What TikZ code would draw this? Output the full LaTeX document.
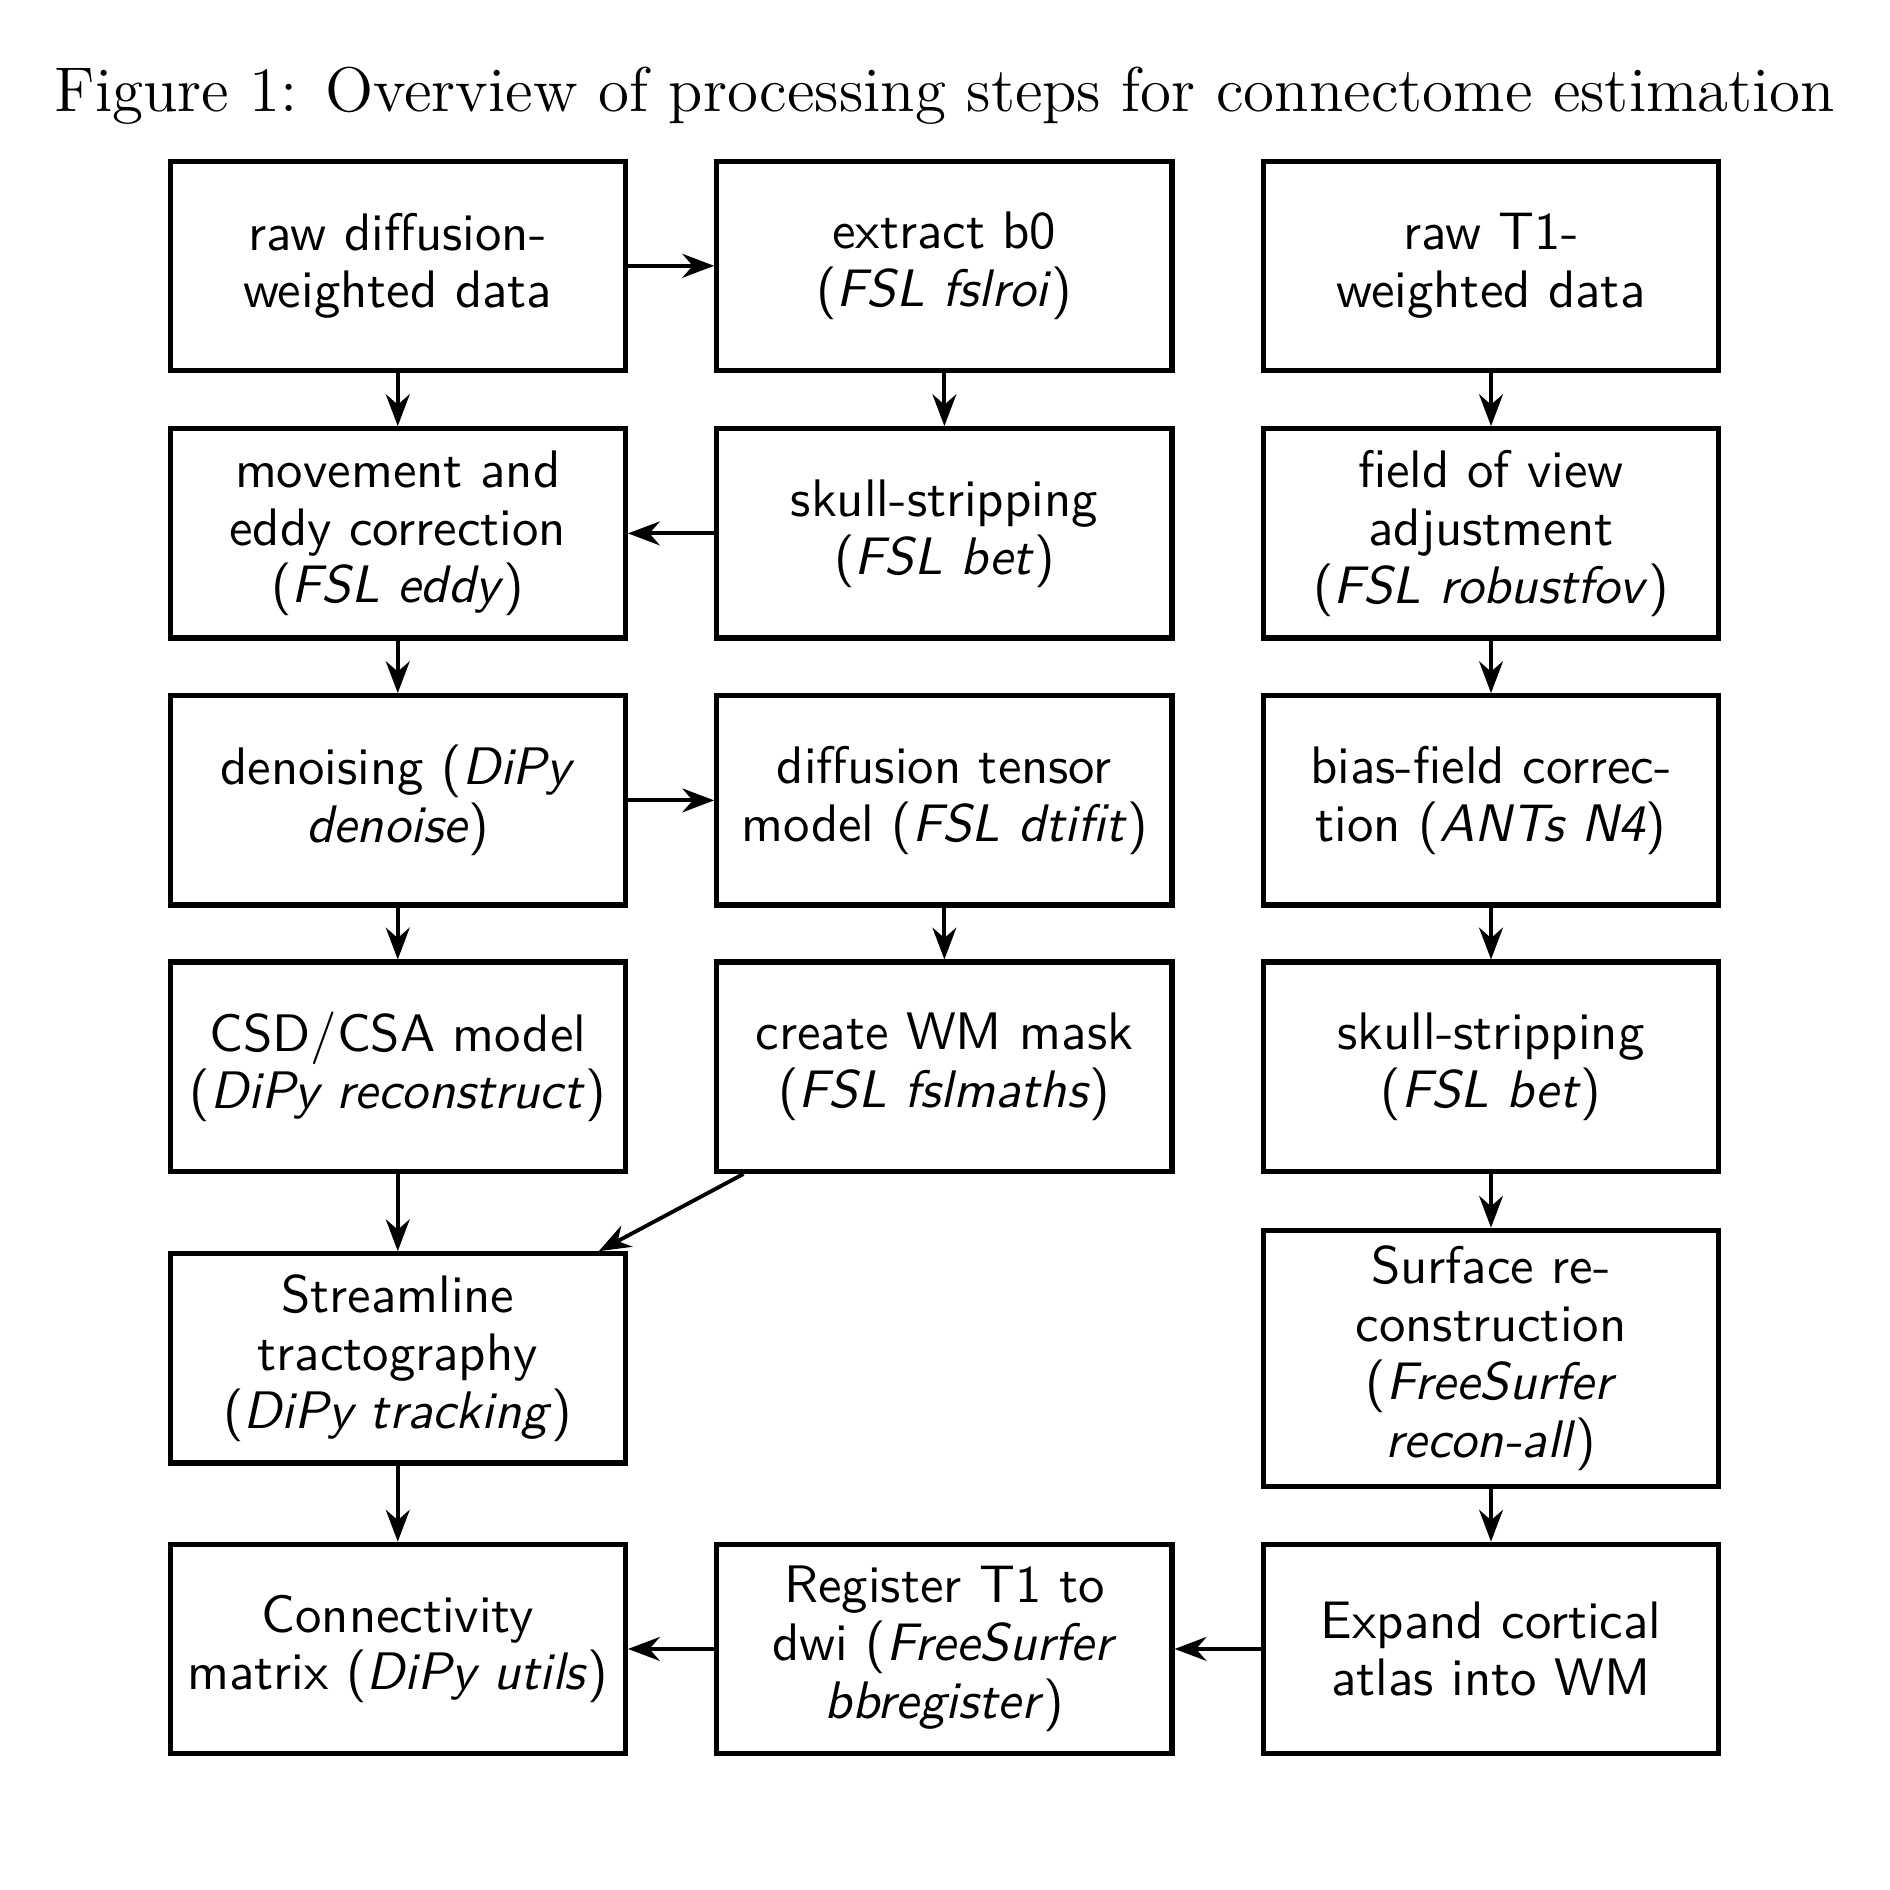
\documentclass[tikz,border=0pt]{standalone}
\usetikzlibrary{arrows.meta}
\begin{document}
\begin{tikzpicture}[x=0.25pt,y=-0.25pt,
  box/.style={draw, line width=1.1pt, rectangle, minimum width=94.4pt,
    minimum height=43.4pt, align=center, font=\sffamily\fontsize{10.95}{12}\selectfont, inner sep=0pt},
  tallbox/.style={box, minimum height=53.15pt},
  arr/.style={-{Stealth}, thick}]
\useasboundingbox (0,0) rectangle (1568,1568);
\node[font=\fontsize{13.1}{15}\selectfont] (title) at (784,79) {Figure 1: Overview of processing steps for connectome estimation};
% row 1
\node[box] (a1) at (330,220.5) {raw diffusion-\\weighted data};
\node[box] (a2) at (783.5,220.5) {extract b0\\(\textit{FSL fslroi})};
\node[box] (a3) at (1237,220.5) {raw T1-\\weighted data};
% row 2
\node[box] (b1) at (330,442.5) {movement and\\eddy correction\\(\textit{FSL eddy})};
\node[box] (b2) at (783.5,442.5) {skull-stripping\\(\textit{FSL bet})};
\node[box] (b3) at (1237,442.5) {field of view\\adjustment\\(\textit{FSL robustfov})};
% row 3
\node[box] (c1) at (330,664) {denoising (\textit{DiPy}\\\textit{denoise})};
\node[box] (c2) at (783.5,664) {diffusion tensor\\model (\textit{FSL dtifit})};
\node[box] (c3) at (1237,664) {bias-field correc-\\tion (\textit{ANTs N4})};
% row 4
\node[box] (d1) at (330,885) {CSD/CSA model\\(\textit{DiPy reconstruct})};
\node[box] (d2) at (783.5,885) {create WM mask\\(\textit{FSL fslmaths})};
\node[box] (d3) at (1237,885) {skull-stripping\\(\textit{FSL bet})};
% row 5
\node[box] (e1) at (330,1127) {Streamline\\tractography\\(\textit{DiPy tracking})};
\node[tallbox] (e3) at (1237,1127) {Surface re-\\construction\\(\textit{FreeSurfer}\\\textit{recon-all})};
% row 6
\node[box] (f1) at (330,1368) {Connectivity\\matrix (\textit{DiPy utils})};
\node[box] (f2) at (783.5,1368) {Register T1 to\\dwi (\textit{FreeSurfer}\\\textit{bbregister})};
\node[box] (f3) at (1237,1368) {Expand cortical\\atlas into WM};
% connectors
\draw[arr] (a1) -- (a2);
\draw[arr] (a1) -- (b1);
\draw[arr] (a2) -- (b2);
\draw[arr] (a3) -- (b3);
\draw[arr] (b2) -- (b1);
\draw[arr] (b1) -- (c1);
\draw[arr] (b3) -- (c3);
\draw[arr] (c1) -- (c2);
\draw[arr] (c1) -- (d1);
\draw[arr] (c2) -- (d2);
\draw[arr] (c3) -- (d3);
\draw[arr] (d1) -- (e1);
\draw[arr] (d2) -- (e1);
\draw[arr] (d3) -- (e3);
\draw[arr] (e1) -- (f1);
\draw[arr] (e3) -- (f3);
\draw[arr] (f3) -- (f2);
\draw[arr] (f2) -- (f1);
\end{tikzpicture}
\end{document}
